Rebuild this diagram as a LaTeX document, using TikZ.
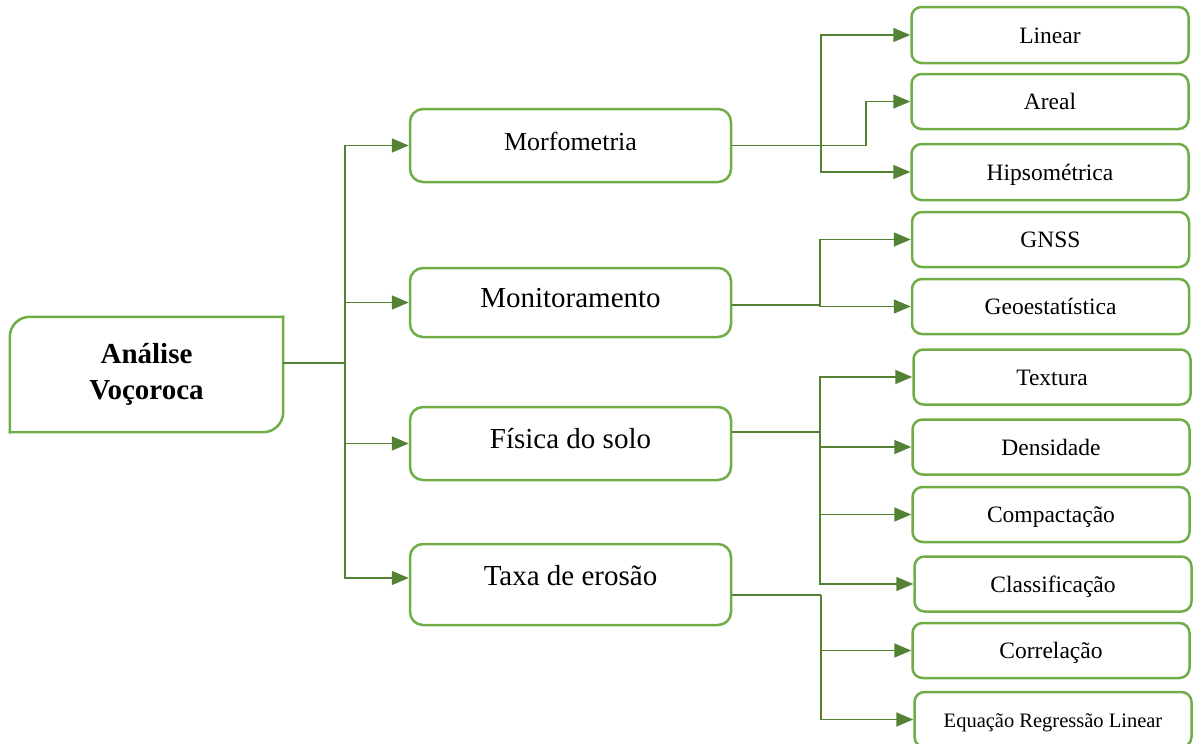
\documentclass[tikz,border=0pt]{standalone}
\usepackage{fontspec}
\setmainfont{Liberation Serif}
\usetikzlibrary{arrows.meta}
\definecolor{lineg}{HTML}{548235}
\definecolor{boxg}{HTML}{70AD47}
\tikzset{
 mid/.style={draw=boxg, line width=2.5pt, rounded corners=13pt, minimum width=321pt, inner sep=0pt, font=\fontsize{29}{34}\selectfont, text height=20pt, text depth=11pt},
 leaf/.style={draw=boxg, line width=2.5pt, rounded corners=10pt, minimum width=277pt, minimum height=55pt, inner sep=0pt, font=\fontsize{23.5}{28}\selectfont, text height=16pt, text depth=0pt},
 rootbox/.style={inner sep=0pt, minimum width=273pt, minimum height=115pt, align=center, font=\bfseries\fontsize{29}{36}\selectfont},
 rootline/.style={draw=boxg, line width=2.5pt, rounded corners=20pt, line cap=rect},
 conn/.style={draw=lineg, line width=1.6pt},
 arr/.style={conn, -{Triangle[length=17pt,width=14pt]}},
}
\begin{document}
\begin{tikzpicture}[x=1pt,y=-1pt]
\useasboundingbox (0,0) rectangle (1194,744);
% root
\node[rootbox] (root) at (146.5,374.5) {Análise\\Voçoroca};
\draw[rootline] (root.north east) -- (root.north west) -- (root.south west);
\draw[rootline] (root.south west) -- (root.south east) -- (root.north east);
% middle
\node[mid, minimum height=73pt] (m1) at (570.5,145.5) {\fontsize{26}{30}\selectfont Morfometria};
\node[mid, minimum height=69pt] (m2) at (570.5,302.5) {Monitoramento};
\node[mid, minimum height=73pt] (m3) at (570.5,443.5) {Física do solo};
\node[mid, minimum height=81pt, text depth=18pt] (m4) at (570.5,584.5) {Taxa de erosão};
% leaves
\node[leaf, minimum height=56pt] (l1) at (1050,35) {Linear};
\node[leaf] (l2) at (1050,101.5) {Areal};
\node[leaf, minimum height=56pt] (l3) at (1050,172) {Hipsométrica};
\node[leaf] (l4) at (1050.5,239.5) {GNSS};
\node[leaf] (l5) at (1050.5,306.5) {Geoestatística};
\node[leaf] (l6) at (1052,377) {Textura};
\node[leaf] (l7) at (1051,447) {Densidade};
\node[leaf] (l8) at (1051,514.5) {Compactação};
\node[leaf] (l9) at (1053,584) {Classificação};
\node[leaf] (l10) at (1051,650.5) {Correlação};
\node[leaf] (l11) at (1053,719.5) {\fontsize{20.5}{24}\selectfont Equação Regressão Linear};
% connectors root -> middle
\coordinate (t) at (345,363);
\draw[conn] (root.east |- t) -- (t);
\draw[arr] (t) |- (m1.west);
\draw[arr] (t) |- (m2.west);
\draw[arr] (t) |- (m3.west);
\draw[arr] (t) |- ([yshift=6.5pt]m4.west);
% Morfometria
\coordinate (b1) at (821,145.5);
\coordinate (b1a) at (866,145.5);
\draw[conn] (m1.east) -- (b1a);
\draw[arr] (b1a) |- (l2.west);
\draw[arr] (b1) |- (l1.west);
\draw[arr] (b1) |- (l3.west);
% Monitoramento
\coordinate (b2) at (820,305);
\draw[conn] (m2.east |- b2) -- (b2);
\draw[arr] (b2) |- (l4.west);
\draw[arr] (b2) |- (l5.west);
% Fisica
\coordinate (b3) at (820,432);
\draw[conn] (m3.east |- b3) -- (b3);
\draw[arr] (b3) |- (l6.west);
\draw[arr] (b3) |- (l7.west);
\draw[arr] (b3) |- (l8.west);
\draw[arr] (b3) |- (l9.west);
% Taxa
\coordinate (b4) at (821,595);
\draw[conn] (m4.east |- b4) -- (b4);
\draw[arr] (b4) |- (l10.west);
\draw[arr] (b4) |- (l11.west);
\end{tikzpicture}
\end{document}
